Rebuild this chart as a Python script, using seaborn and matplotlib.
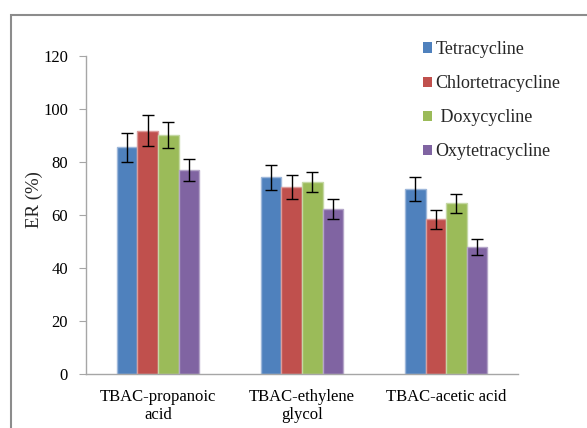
import matplotlib
matplotlib.use("Agg")
import matplotlib.pyplot as plt
import seaborn as sns
import pandas as pd
import numpy as np
from matplotlib.patches import Rectangle, Patch

categories = ["TBAC-propanoic\nacid", "TBAC-ethylene\nglycol", "TBAC-acetic acid"]
series = ["Tetracycline", "Chlortetracycline", "Doxycycline", "Oxytetracycline"]
tetracycline = [85.5, 74.2, 69.7]
chlortetracycline = [91.8, 70.4, 58.3]
doxycycline = [90.2, 72.5, 64.4]
oxytetracycline = [77.0, 62.4, 47.9]
err_tetracycline = [5.6, 4.6, 4.6]
err_chlortetracycline = [5.9, 4.5, 3.7]
err_doxycycline = [4.9, 3.7, 3.5]
err_oxytetracycline = [4.3, 3.8, 3.0]
yticks = [0, 20, 40, 60, 80, 100, 120]

values = [tetracycline, chlortetracycline, doxycycline, oxytetracycline]
errors = [err_tetracycline, err_chlortetracycline, err_doxycycline, err_oxytetracycline]
colors = ["#4F81BD", "#C0504D", "#9BBB59", "#8064A2"]
edges = ["#9DB7DA", "#DC9C9A", "#C5D8A4", "#B4A5C8"]

rows = []
for s, vals, errs in zip(series, values, errors):
    for c, v, e in zip(categories, vals, errs):
        rows.append({"cat": c, "series": s, "val": v, "err": e})
df = pd.DataFrame(rows)

sns.set_style("white")
plt.rcParams["font.family"] = ["Liberation Serif", "DejaVu Serif"]

fig = plt.figure(figsize=(5.87, 4.28), dpi=100)
ax = fig.add_axes([0.1465, 0.1262, 0.736, 0.743])

sns.barplot(data=df, x="cat", y="val", hue="series", order=categories,
            hue_order=series, palette=colors, width=0.57, gap=0,
            errorbar=None, ax=ax, legend=False, saturation=1)

n_cat = len(categories)
for i, patch in enumerate(ax.patches[:n_cat * len(series)]):
    si = i // n_cat
    patch.set_edgecolor(edges[si])
    patch.set_linewidth(1.0)
for si, s in enumerate(series):
    sub = df[df.series == s].set_index("cat").loc[categories]
    xs = [p.get_x() + p.get_width() / 2 for p in ax.patches[si * n_cat:(si + 1) * n_cat]]
    ax.errorbar(xs, sub["val"].values, yerr=sub["err"].values, fmt="none",
                ecolor="black", elinewidth=1.0, capsize=4.5, capthick=1.0, zorder=5)

ax.set_xlim(-0.5, 2.5)
ax.set_ylim(0, 120)
ax.set_yticks(yticks)
ax.set_yticklabels([str(t) for t in yticks], fontsize=12)
ax.set_xticks(range(n_cat))
ax.set_xticklabels(categories, fontsize=12, linespacing=1.2)
ax.set_xlabel("")
ax.set_ylabel("ER (%)", fontsize=13.5)
ax.yaxis.set_label_coords(-0.1, 0.547)

for sp in ["top", "right"]:
    ax.spines[sp].set_visible(False)
for sp in ["left", "bottom"]:
    ax.spines[sp].set_color("#A6A6A6")
    ax.spines[sp].set_linewidth(1.0)
ax.tick_params(axis="y", which="both", left=True, length=5, color="#A6A6A6",
               direction="out", pad=8, labelcolor="black")
ax.tick_params(axis="x", bottom=False, pad=7, labelcolor="black")

handles = [Patch(facecolor=c, edgecolor="none") for c in colors]
labels = ["Tetracycline", "Chlortetracycline", " Doxycycline", "Oxytetracycline"]
fig.legend(handles, labels, loc="upper left", bbox_to_anchor=(423 / 587, 1 - 41 / 428),
           frameon=False, fontsize=13, handlelength=0.5, handleheight=0.5,
           handletextpad=0.2, labelspacing=0.95, borderaxespad=0, borderpad=0)

fig.patches.append(Rectangle((11 / 587, -0.1), 1.2, 1 - 15 / 428 + 0.1,
                             transform=fig.transFigure, fill=False,
                             edgecolor="#8C8C8C", linewidth=1.5, zorder=0))

fig.savefig("out.png", dpi=100)
